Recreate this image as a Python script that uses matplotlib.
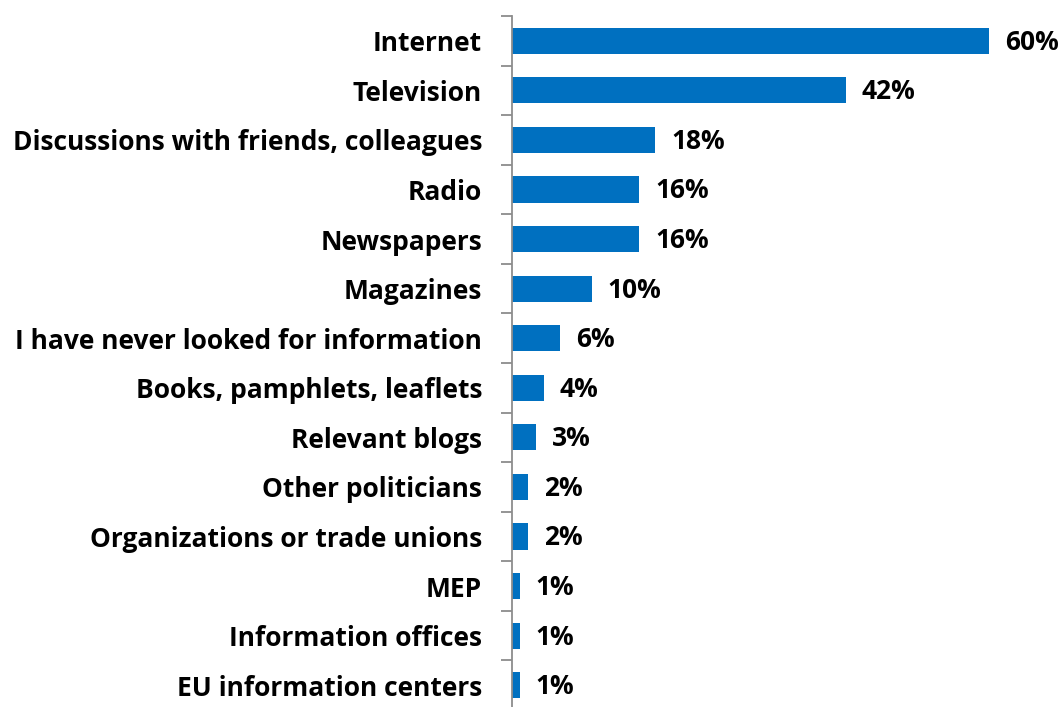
import matplotlib
matplotlib.use("Agg")
import matplotlib.pyplot as plt

categories = [
    "Internet",
    "Television",
    "Discussions with friends, colleagues",
    "Radio",
    "Newspapers",
    "Magazines",
    "I have never looked for information",
    "Books, pamphlets, leaflets",
    "Relevant blogs",
    "Other politicians",
    "Organizations or trade unions",
    "MEP",
    "Information offices",
    "EU information centers",
]
values = [60, 42, 18, 16, 16, 10, 6, 4, 3, 2, 2, 1, 1, 1]

bar_color = "#0070C0"
font = "Open Sans"
fsize = 19

fig = plt.figure(figsize=(10.64, 7.07), dpi=100)
ax = fig.add_axes([512 / 1064, -3 / 707, 552 / 1064, 694 / 707])

n = len(categories)
ypos = list(range(n))
ax.barh(ypos, values, height=0.53, color=bar_color, zorder=2)
ax.set_ylim(n - 0.5, -0.5)
ax.set_xlim(0, 69.4)

for y, v in zip(ypos, values):
    ax.text(v + 2.0, y + 0.03, f"{v}%", va="center", ha="left",
            fontsize=fsize, fontweight="bold", family=font, color="black")

ax.set_yticks([i - 0.5 for i in range(n + 1)], minor=False)
ax.set_yticklabels([""] * (n + 1))
ax.set_yticks(ypos, minor=True)
ax.set_yticklabels(categories, minor=True, fontsize=fsize, fontweight="bold",
                   family=font)
ax.tick_params(axis="y", which="minor", length=0, pad=21.5)
ax.tick_params(axis="y", which="major", length=8, width=1.3, color="#8C8C8C")
ax.set_xticks([])

for s in ["top", "right", "bottom"]:
    ax.spines[s].set_visible(False)
ax.spines["left"].set_color("#8C8C8C")
ax.spines["left"].set_linewidth(1.3)

fig.savefig("out.png", dpi=100)
